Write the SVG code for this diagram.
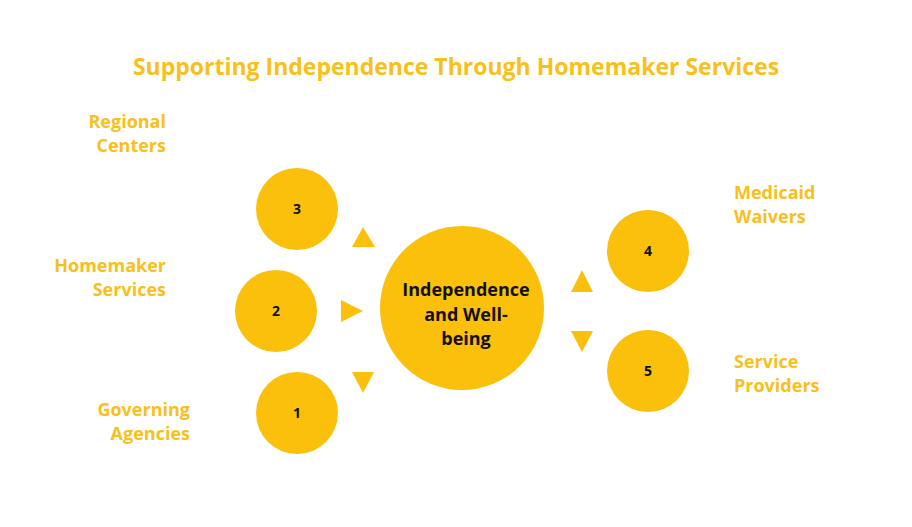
<svg xmlns="http://www.w3.org/2000/svg" width="912" height="527" viewBox="0 0 912 527">
<style>
.c{fill:#fbc00c}
.t{font-family:"Open Sans","DejaVu Sans",sans-serif;font-weight:bold}
.lab{fill:#f9bf1a;font-size:18px}
.num{fill:#111;font-size:14px;text-anchor:middle}
</style>
<rect width="912" height="527" fill="#fff"/>
<text class="t" x="456" y="75" text-anchor="middle" font-size="23" fill="#f9bf1a">Supporting Independence Through Homemaker Services</text>
<g id="connectors" class="c">
<polygon points="352,247 375,247 363,227"/>
<polygon points="341,300 363,311 341,322"/>
<polygon points="352,372 374,372 363,393"/>
<polygon points="571,292 593,292 582,270"/>
<polygon points="571,331 593,331 582,352"/>
</g>
<g id="center"><circle class="c" cx="462" cy="308" r="82"/>
<text class="t" x="466" y="296" text-anchor="middle" font-size="18" fill="#111">Independence</text>
<text class="t" x="466" y="321" text-anchor="middle" font-size="18" fill="#111">and Well-</text>
<text class="t" x="466" y="345" text-anchor="middle" font-size="18" fill="#111">being</text></g>
<g id="n3"><circle class="c" cx="297" cy="209" r="41"/><text class="t num" x="297" y="214">3</text>
<text class="t lab" x="166" y="128" text-anchor="end">Regional</text><text class="t lab" x="166" y="152" text-anchor="end">Centers</text></g>
<g id="n2"><circle class="c" cx="276" cy="311" r="41"/><text class="t num" x="276" y="316">2</text>
<text class="t lab" x="166" y="272" text-anchor="end">Homemaker</text><text class="t lab" x="166" y="296" text-anchor="end">Services</text></g>
<g id="n1"><circle class="c" cx="297" cy="413" r="41"/><text class="t num" x="297" y="418">1</text>
<text class="t lab" x="190" y="416" text-anchor="end">Governing</text><text class="t lab" x="190" y="440" text-anchor="end">Agencies</text></g>
<g id="n4"><circle class="c" cx="648" cy="251" r="41"/><text class="t num" x="648" y="256">4</text>
<text class="t lab" x="734" y="199">Medicaid</text><text class="t lab" x="734" y="223">Waivers</text></g>
<g id="n5"><circle class="c" cx="648" cy="371" r="41"/><text class="t num" x="648" y="376">5</text>
<text class="t lab" x="734" y="368">Service</text><text class="t lab" x="734" y="392">Providers</text></g>
</svg>
